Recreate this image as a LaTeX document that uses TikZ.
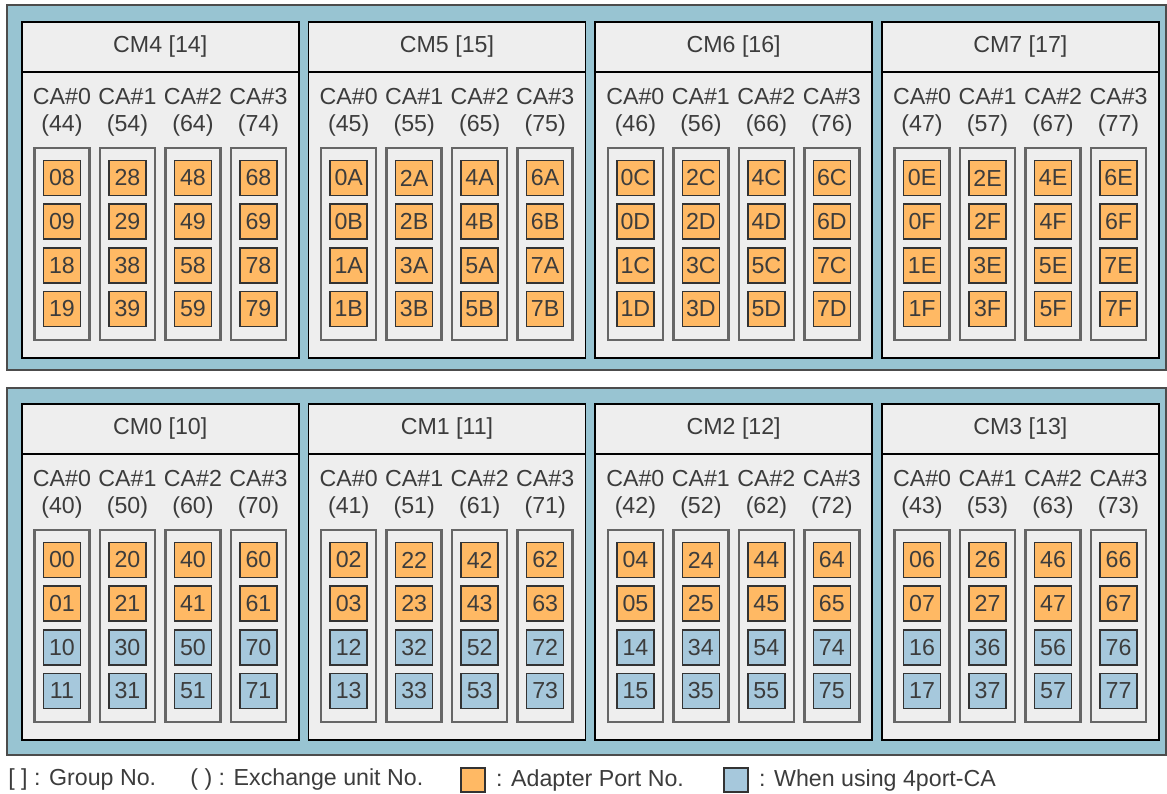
\documentclass[tikz,border=0pt]{standalone}
\usepackage{fontspec}
\setmainfont{Liberation Sans}
\usepackage{xcolor}
\usetikzlibrary{positioning}
\definecolor{framebg}{HTML}{98C4D2}
\definecolor{cmbg}{HTML}{EEEEEE}
\definecolor{portorange}{HTML}{FFB964}
\definecolor{portblue}{HTML}{A6C8DC}
\definecolor{inkgray}{HTML}{3C3C3C}

\begin{document}
\begin{tikzpicture}[x=0.02cm, y=-0.02cm, node distance=2mm,
  every node/.style={font=\fontsize{13.2}{15.4}\selectfont, text=inkgray, inner sep=0pt},
  frame/.style={draw=black!70, line width=1.1pt, fill=framebg},
  cmbox/.style={draw=black, line width=0.9pt, fill=cmbg, minimum width=5.54cm, minimum height=6.72cm, anchor=north west},
  cmhead/.style={draw=black, line width=0.9pt, fill=cmbg, minimum width=5.54cm, minimum height=1cm, anchor=north},
  calabel/.style={align=center},
  cacol/.style={draw=black!60, line width=1.4pt, fill=cmbg, minimum width=1.1cm, minimum height=3.84cm, anchor=north},
  port/.style={draw=black!80, line width=0.9pt, minimum width=0.74cm, minimum height=0.7cm}]
\useasboundingbox (0,0) rectangle (1167,794);
\draw[frame] (7,5) rectangle (1166,370);
\draw[frame] (7,388) rectangle (1166,755);
% CM boxes: number / low digits / column / top / lower port colour
\foreach \k/\sa/\sb/\i/\py/\c in {4/8/9/0/21/portorange, 5/A/B/1/21/portorange, 6/C/D/2/21/portorange, 7/E/F/3/21/portorange,
    0/0/1/0/403/portblue, 1/2/3/1/403/portblue, 2/4/5/2/403/portblue, 3/6/7/3/403/portblue} {
  \node[cmbox] (cm\k) at (21+286.7*\i, \py) {};
  \node[cmhead] (cmh\k) at (cm\k.north) {CM\k\ [1\k]};
  \foreach \j in {0,...,3} {
    \pgfmathtruncatemacro\portA{2*\j}
    \pgfmathtruncatemacro\portB{2*\j+1}
    \pgfmathtruncatemacro\unitNo{4+\j}
    \node[calabel] (cal\k\j) at ([xshift={0.82cm+1.31cm*\j}, yshift=-1.83cm]cm\k.north west) {CA\#\j\\(\unitNo\k)};
    \node[cacol] (col\k\j) at ([xshift={0.82cm+1.31cm*\j}, yshift=-2.52cm]cm\k.north west) {};
    \foreach \r/\t/\f in {0/\portA\sa/portorange, 1/\portA\sb/portorange, 2/\portB\sa/\c, 3/\portB\sb/\c}
      \node[port, fill=\f] (p\k\j\r) at ([yshift={-0.62cm-0.873cm*\r}]col\k\j.north) {\t};
  }
}
% legend
\node[anchor=west] (lgrp) at (8,779) {[ ] : Group No.};
\node[anchor=west] (lexu) at (190,779) {( ) : Exchange unit No.};
\node[port, fill=portorange, minimum width=0.48cm, minimum height=0.48cm] (lorg) at (473,780) {};
\node[right=of lorg, anchor=west] (lorgt) {: Adapter Port No.};
\node[port, fill=portblue, minimum width=0.48cm, minimum height=0.48cm] (lblu) at (736,780) {};
\node[right=of lblu, anchor=west] (lblut) {: When using 4port-CA};
\end{tikzpicture}
\end{document}
